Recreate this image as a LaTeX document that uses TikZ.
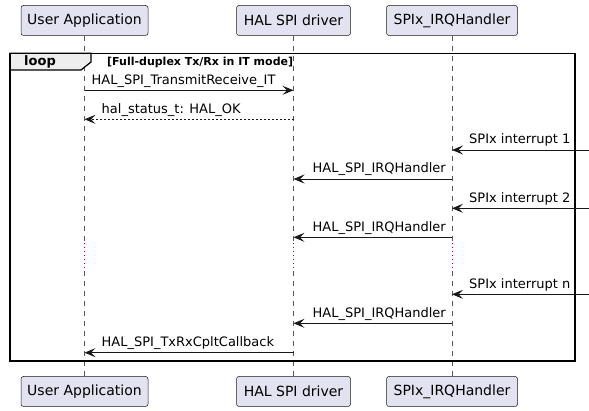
\documentclass[tikz,border=0pt]{standalone}
\usepackage{fontspec}
\setmainfont{DejaVu Sans}
\usetikzlibrary{arrows.meta,calc}
\definecolor{lineC}{HTML}{181818}
\definecolor{partF}{HTML}{E2E2F0}
\definecolor{lifeC}{HTML}{555555}
\definecolor{tabF}{HTML}{EEEEEE}
\definecolor{delayC}{HTML}{A80036}
\begin{document}
\begin{tikzpicture}[x=1pt,y=-1pt,
  part/.style={draw=lineC, fill=partF, rounded corners=2.5pt, line width=0.5pt, minimum height=30pt, inner sep=0pt, font=\fontsize{14}{16}\selectfont},
  life/.style={draw=lifeC, dash pattern=on 5pt off 5pt, line width=0.6pt},
  msg/.style={draw=lineC, line width=0.9pt, -{Stealth[length=11pt,width=9pt,inset=4.5pt]}},
  ret/.style={msg, dash pattern=on 2pt off 2pt},
  lbl/.style={font=\fontsize{13}{15}\selectfont, inner sep=0pt, anchor=base west},
  delay/.style={draw=delayC, dash pattern=on 1pt off 3pt, line width=0.9pt},
  frm/.style={draw=black, line width=1.5pt}]
\useasboundingbox (0,0) rectangle (589,411);
% participants
\node[part, minimum width=127pt] (ua) at (84.5,20.5) {User Application};
\node[part, minimum width=114pt] (hd) at (293.5,20.5) {HAL SPI driver};
\node[part, minimum width=131pt] (irq) at (452,20.5) {SPIx\_IRQHandler};
\node[part, minimum width=127pt] (ua2) at (84.5,391.5) {User Application};
\node[part, minimum width=114pt] (hd2) at (293.5,391.5) {HAL SPI driver};
\node[part, minimum width=131pt] (irq2) at (452,391.5) {SPIx\_IRQHandler};
% y levels
\coordinate (d1) at (0,243);
\coordinate (d2) at (0,271);
\coordinate (edge) at (589,0);
\coordinate (m1) at (0,90.3);
\coordinate (m2) at (0,119.3);
\coordinate (m3) at (0,150);
\coordinate (m4) at (0,179);
\coordinate (m5) at (0,208.3);
\coordinate (m6) at (0,237.3);
\coordinate (m7) at (0,294.3);
\coordinate (m8) at (0,323.3);
\coordinate (m9) at (0,352.7);
% lifelines
\foreach \a/\b in {ua/ua2,hd/hd2,irq/irq2}{
  \draw[life] (\a.south) -- (\a.south |- d1);
  \draw[delay] (\a.south |- d1) -- (\a.south |- d2);
  \draw[life] (\a.south |- d2) -- (\b.north);
}
% loop frame
\filldraw[fill=tabF, draw=black, line width=1.2pt] (10,53.3) -- (91,53.3) -- (91,62) -- (81,70) -- (10,70) -- cycle;
\draw[frm] (10,53.3) rectangle (575,361);
\node[font=\fontsize{13}{15}\selectfont\bfseries, inner sep=0pt, anchor=base] (lp) at (40,66) {loop};
\node[font=\fontsize{11}{13}\selectfont\bfseries, inner sep=0pt, anchor=base west] (gd) at (107,65.5) {[Full-duplex Tx/Rx in IT mode]};
% messages
\draw[msg] (ua.south |- m1) -- (hd.south |- m1);
\node[lbl] (l1) at ($(ua.south |- m1)+(7,-6)$) {HAL\_SPI\_TransmitReceive\_IT};
\draw[ret] (hd.south |- m2) -- (ua.south |- m2);
\node[lbl] (l2) at ($(ua.south |- m2)+(17,-6)$) {hal\_status\_t: HAL\_OK};
\draw[msg] (edge |- m3) -- (irq.south |- m3);
\node[lbl] (l3) at ($(irq.south |- m3)+(17,-6)$) {SPIx interrupt 1};
\draw[msg] (irq.south |- m4) -- (hd.south |- m4);
\node[lbl] (l4) at ($(hd.south |- m4)+(19,-6)$) {HAL\_SPI\_IRQHandler};
\draw[msg] (edge |- m5) -- (irq.south |- m5);
\node[lbl] (l5) at ($(irq.south |- m5)+(17,-6)$) {SPIx interrupt 2};
\draw[msg] (irq.south |- m6) -- (hd.south |- m6);
\node[lbl] (l6) at ($(hd.south |- m6)+(19,-6)$) {HAL\_SPI\_IRQHandler};
\draw[msg] (edge |- m7) -- (irq.south |- m7);
\node[lbl] (l7) at ($(irq.south |- m7)+(17,-6)$) {SPIx interrupt n};
\draw[msg] (irq.south |- m8) -- (hd.south |- m8);
\node[lbl] (l8) at ($(hd.south |- m8)+(19,-6)$) {HAL\_SPI\_IRQHandler};
\draw[msg] (hd.south |- m9) -- (ua.south |- m9);
\node[lbl] (l9) at ($(ua.south |- m9)+(17,-6)$) {HAL\_SPI\_TxRxCpltCallback};
\end{tikzpicture}
\end{document}
